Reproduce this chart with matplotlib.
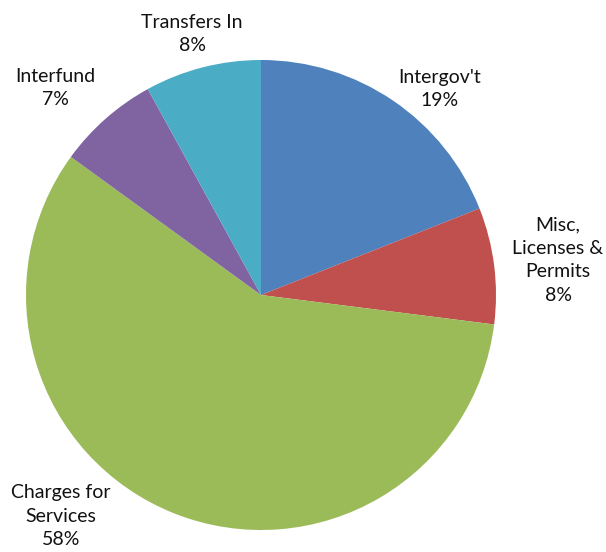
import numpy as np
import matplotlib
matplotlib.use("Agg")
import matplotlib.pyplot as plt

# revenue sources, clockwise from 12 o'clock
labels = ["Intergov't", "Misc,\nLicenses &\nPermits", "Charges for\nServices", "Interfund", "Transfers In"]
shares = [19, 8, 58, 7, 8]
colors = ["#4F81BD", "#C0504D", "#9BBB59", "#8064A2", "#4BACC6"]

# label anchor points (pixels, origin top-left)
label_xy = [(440, 89), (558, 260), (61, 516), (55, 88), (192, 34)]

W, H = 606, 552
fig = plt.figure(figsize=(W / 100, H / 100), dpi=100)
ax = fig.add_axes([0, 0, 1, 1])

cx, cy, r = 261, H - 295, 235
ax.pie(shares, colors=colors, startangle=90, counterclock=False,
       center=(cx, cy), radius=r, wedgeprops=dict(linewidth=0))

for lab, val, (x, y) in zip(labels, shares, label_xy):
    ax.text(x, H - y, f"{lab}\n{val}%", ha="center", va="center",
            fontsize=14, family=["Lato", "DejaVu Sans"], linespacing=1.48,
            color="#111111")

ax.set_xlim(0, W)
ax.set_ylim(0, H)
ax.set_aspect("equal")
ax.axis("off")

fig.savefig("out.png", dpi=100)
